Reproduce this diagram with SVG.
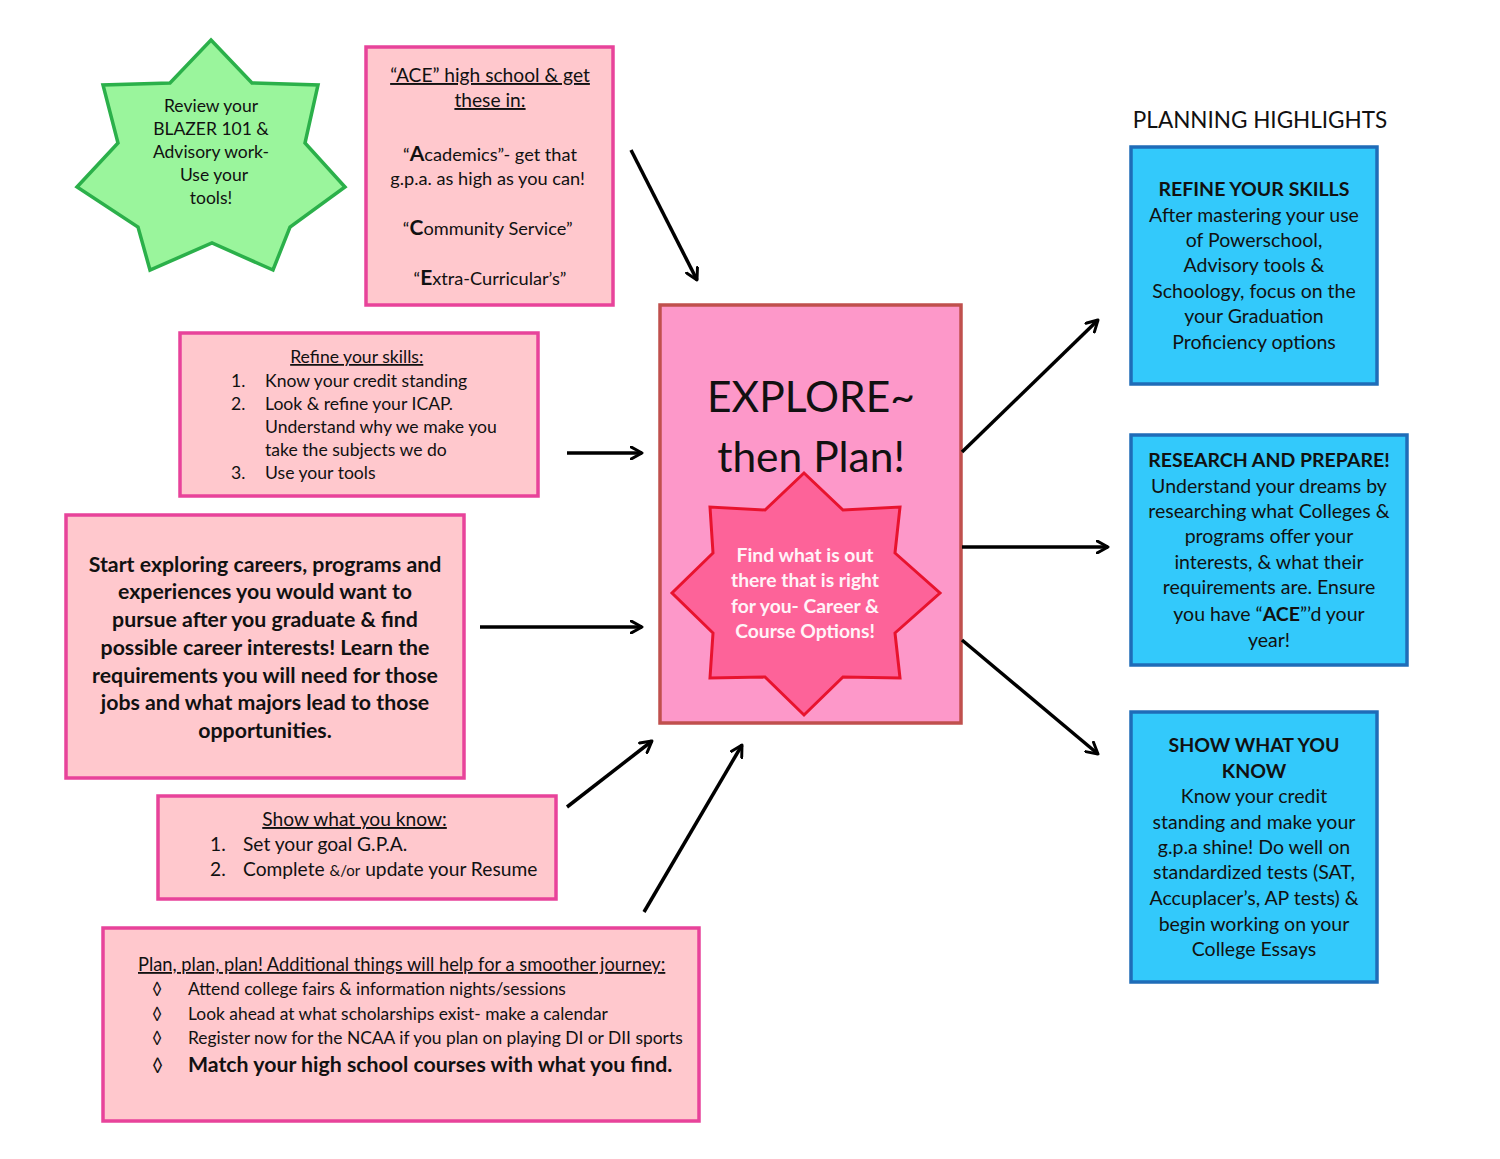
<svg xmlns="http://www.w3.org/2000/svg" width="1500" height="1159" viewBox="0 0 1500 1159">
<defs>
<marker id="ah" viewBox="0 0 12 12" refX="10" refY="6" markerWidth="4.2" markerHeight="4.2" orient="auto" markerUnits="strokeWidth">
<path d="M1,1 L10,6 L1,11" fill="none" stroke="#000" stroke-width="2.4" stroke-linecap="round" stroke-linejoin="round"/>
</marker>
<style>
text{font-family:Lato,"Open Sans","Liberation Sans",sans-serif;fill:#111}
.pk{fill:#ffc8cd;stroke:#e8439a;stroke-width:3.5}
.bl{fill:#33c9fb;stroke:#1f6cb8;stroke-width:3.5}
.c{text-anchor:middle}
.b{font-weight:bold}
.u{text-decoration:underline}
.ar{stroke:#000;stroke-width:3.5;fill:none;marker-end:url(#ah)}
</style>
</defs>
<rect width="1500" height="1159" fill="#fff"/>

<g id="star-review">
<polygon points="211,40 252,83 318,85 305,143 345,187 290,227 273,270 212,243 150,270 138,227 77,187 118,143 103,85 170,83" fill="#9af59c" stroke="#2bb04a" stroke-width="3.5" stroke-linejoin="miter"/>
<text class="c" font-size="17.5"><tspan x="211" y="112">Review your</tspan><tspan x="211" y="135">BLAZER 101 &amp;</tspan><tspan x="211" y="158">Advisory work-</tspan><tspan x="214" y="181">Use your</tspan><tspan x="211" y="204">tools!</tspan></text>
</g>

<g id="box-ace">
<rect class="pk" x="366" y="47" width="247" height="258"/>
<text class="c" font-size="19.2"><tspan class="u" x="490" y="82">“ACE” high school &amp; get</tspan><tspan class="u" x="490" y="107">these in:</tspan></text>
<text class="c" font-size="18.2"><tspan x="490" y="161">“<tspan class="b" font-size="21">A</tspan>cademics”- get that</tspan><tspan x="490" y="185">g.p.a. as high as you can!</tspan>
<tspan x="490" y="235">“<tspan class="b" font-size="21">C</tspan>ommunity Service”</tspan>
<tspan x="490" y="285">“<tspan class="b" font-size="21">E</tspan>xtra-Curricular’s”</tspan></text>
</g>

<g id="box-refine">
<rect class="pk" x="180" y="333" width="358" height="163"/>
<text font-size="17.6"><tspan class="c u" x="359" y="363">Refine your skills:</tspan>
<tspan x="231" y="387">1.</tspan><tspan x="265" y="387">Know your credit standing</tspan>
<tspan x="231" y="410">2.</tspan><tspan x="265" y="410">Look &amp; refine your ICAP.</tspan>
<tspan x="265" y="433">Understand why we make you</tspan>
<tspan x="265" y="456">take the subjects we do</tspan>
<tspan x="231" y="479">3.</tspan><tspan x="265" y="479">Use your tools</tspan></text>
</g>

<g id="box-explore-careers">
<rect class="pk" x="66" y="515" width="398" height="263"/>
<text class="c b" font-size="21.3"><tspan x="265" y="572">Start exploring careers, programs and</tspan><tspan x="265" y="599">experiences you would want to</tspan><tspan x="265" y="627">pursue after you graduate &amp; find</tspan><tspan x="265" y="655">possible career interests! Learn the</tspan><tspan x="265" y="683">requirements you will need for those</tspan><tspan x="265" y="710">jobs and what majors lead to those</tspan><tspan x="265" y="738">opportunities.</tspan></text>
</g>

<g id="box-show">
<rect class="pk" x="158" y="796" width="398" height="103"/>
<text font-size="19.2"><tspan class="c u" x="357" y="826">Show what you know:</tspan>
<tspan x="210" y="851">1.</tspan><tspan x="243" y="851">Set your goal G.P.A.</tspan>
<tspan x="210" y="876">2.</tspan><tspan x="243" y="876">Complete <tspan font-size="15">&amp;/or</tspan> update your Resume</tspan></text>
</g>

<g id="box-plan">
<rect class="pk" x="103" y="928" width="596" height="193"/>
<text font-size="18.3"><tspan class="u" x="138" y="971">Plan, plan, plan! Additional things will help for a smoother journey:</tspan></text>
<text font-size="17.4"><tspan x="152" y="995">◊</tspan><tspan x="188" y="995">Attend college fairs &amp; information nights/sessions</tspan>
<tspan x="152" y="1020">◊</tspan><tspan x="188" y="1020">Look ahead at what scholarships exist- make a calendar</tspan>
<tspan x="152" y="1044">◊</tspan><tspan x="188" y="1044">Register now for the NCAA if you plan on playing DI or DII sports</tspan>
<tspan x="152" y="1072" font-size="19">◊</tspan><tspan class="b" x="188" y="1072" font-size="21.3">Match your high school courses with what you find.</tspan></text>
</g>

<g id="center-explore">
<rect x="660" y="305" width="301" height="418" fill="#fd98c9" stroke="#c0504d" stroke-width="3.5"/>
<text class="c" font-size="42.5"><tspan x="811" y="412">EXPLORE~</tspan><tspan x="811" y="472">then Plan!</tspan></text>
<polygon points="804,473 843,510 900,507 895,553 940,593 895,633 900,678 843,677 804,715 765,677 710,678 713,633 672,593 713,553 710,507 765,510" fill="#fd6399" stroke="#e8132e" stroke-width="3"/>
<text class="c b" font-size="19.3" style="fill:#fff4f8"><tspan x="805" y="562">Find what is out</tspan><tspan x="805" y="587">there that is right</tspan><tspan x="805" y="613">for you- Career &amp;</tspan><tspan x="805" y="638">Course Options!</tspan></text>
</g>

<g id="heading-highlights">
<text class="c" font-size="22.5" x="1260" y="128">PLANNING HIGHLIGHTS</text>
</g>

<g id="box-refine-skills">
<rect class="bl" x="1131" y="147" width="246" height="237"/>
<text class="c" font-size="19.5"><tspan class="b" x="1254" y="196">REFINE YOUR SKILLS</tspan><tspan x="1254" y="222">After mastering your use</tspan><tspan x="1254" y="247">of Powerschool,</tspan><tspan x="1254" y="272">Advisory tools &amp;</tspan><tspan x="1254" y="298">Schoology, focus on the</tspan><tspan x="1254" y="323">your Graduation</tspan><tspan x="1254" y="349">Proficiency options</tspan></text>
</g>

<g id="box-research">
<rect class="bl" x="1131" y="435" width="276" height="230"/>
<text class="c" font-size="19.5"><tspan class="b" x="1269" y="467">RESEARCH AND PREPARE!</tspan><tspan x="1269" y="493">Understand your dreams by</tspan><tspan x="1269" y="518">researching what Colleges &amp;</tspan><tspan x="1269" y="543">programs offer your</tspan><tspan x="1269" y="569">interests, &amp; what their</tspan><tspan x="1269" y="594">requirements are. Ensure</tspan><tspan x="1269" y="621">you have “<tspan class="b">ACE</tspan>”’d your</tspan><tspan x="1269" y="647">year!</tspan></text>
</g>

<g id="box-show-know">
<rect class="bl" x="1131" y="712" width="246" height="270"/>
<text class="c" font-size="19.5"><tspan class="b" x="1254" y="752">SHOW WHAT YOU</tspan><tspan class="b" x="1254" y="778">KNOW</tspan><tspan x="1254" y="803">Know your credit</tspan><tspan x="1254" y="829">standing and make your</tspan><tspan x="1254" y="854">g.p.a shine!  Do well on</tspan><tspan x="1254" y="879">standardized tests (SAT,</tspan><tspan x="1254" y="905">Accuplacer’s, AP tests) &amp;</tspan><tspan x="1254" y="931">begin working on your</tspan><tspan x="1254" y="956">College Essays</tspan></text>
</g>

<g id="connectors">
<line class="ar" x1="631" y1="150" x2="697" y2="280"/>
<line class="ar" x1="567" y1="453" x2="642" y2="453"/>
<line class="ar" x1="480" y1="627" x2="642" y2="627"/>
<line class="ar" x1="567" y1="807" x2="652" y2="741"/>
<line class="ar" x1="644" y1="912" x2="742" y2="745"/>
<line class="ar" x1="962" y1="452" x2="1098" y2="320"/>
<line class="ar" x1="962" y1="547" x2="1108" y2="547"/>
<line class="ar" x1="962" y1="640" x2="1098" y2="754"/>
</g>
</svg>
